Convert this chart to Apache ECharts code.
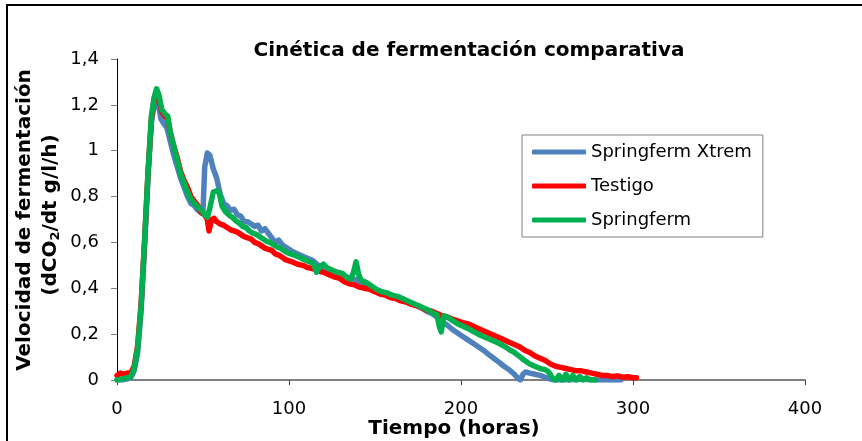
<!DOCTYPE html>
<html>
<head>
<meta charset="utf-8">
<script src="https://cdn.jsdelivr.net/npm/echarts@6/dist/echarts.min.js"></script>
<style>html,body{margin:0;padding:0;background:#fff}#c{width:862px;height:441px}</style>
</head>
<body>
<div id="c"></div>
<script>
const seriesNames = ['Springferm Xtrem', 'Testigo', 'Springferm'];
const xTicks = [0, 100, 200, 300, 400];
const yTicks = [0, 0.2, 0.4, 0.6, 0.8, 1, 1.2, 1.4];

// [hours, g/l/h]
const springfermXtrem = [[0,0],[3,0],[6,0.005],[8,0.01],[10,0.04],[12,0.12],[14,0.3],[16,0.58],[18,0.88],[20,1.12],[21.5,1.2],[23,1.25],[24,1.2],[25.5,1.14],[27,1.12],[29,1.1],[31,1.04],[33,0.98],[35,0.93],[37,0.88],[39,0.84],[41,0.8],[43,0.77],[45,0.76],[47,0.74],[49,0.73],[50,0.74],[51,0.93],[52.5,0.99],[54,0.98],[56,0.92],[58,0.88],[60,0.81],[62,0.77],[64,0.76],[66,0.74],[68,0.745],[70,0.72],[72,0.715],[74,0.69],[76,0.69],[78,0.68],[80,0.67],[82,0.675],[84,0.65],[86,0.66],[88,0.64],[90,0.62],[92,0.6],[94,0.61],[96,0.59],[98,0.58],[100,0.57],[102,0.56],[105,0.55],[108,0.54],[111,0.53],[114,0.52],[117,0.5],[120,0.49],[123,0.48],[126,0.47],[129,0.46],[132,0.455],[135,0.445],[138,0.44],[141,0.43],[144,0.42],[147,0.41],[150,0.395],[153,0.38],[156,0.375],[159,0.37],[162,0.36],[165,0.355],[168,0.345],[171,0.335],[174,0.325],[177,0.315],[180,0.3],[183,0.29],[186,0.275],[188,0.265],[190,0.25],[192,0.24],[195,0.22],[198,0.205],[201,0.19],[204,0.175],[207,0.16],[210,0.145],[213,0.13],[216,0.112],[219,0.095],[222,0.078],[225,0.06],[228,0.045],[231,0.025],[233,0.008],[234.5,0],[236,0.025],[237.5,0.035],[240,0.03],[243,0.025],[246,0.02],[249,0.012],[252,0.004],[254,0],[260,0],[270,0.003],[280,0],[293,0]];

const testigo = [[0,0.02],[2,0.03],[4,0.025],[6,0.03],[8,0.03],[10,0.06],[12,0.15],[14,0.33],[16,0.6],[18,0.9],[20,1.14],[21.5,1.22],[23,1.26],[24.5,1.22],[26,1.17],[28,1.15],[29.5,1.14],[31,1.08],[33,1.02],[35,0.97],[37,0.91],[39,0.87],[41,0.84],[43,0.8],[45,0.78],[47,0.76],[49,0.73],[51,0.72],[52.5,0.7],[53.5,0.65],[55,0.7],[56.5,0.705],[58,0.69],[60,0.68],[62,0.675],[64,0.665],[66,0.655],[68,0.65],[70,0.645],[72,0.635],[74,0.625],[76,0.62],[78,0.615],[80,0.6],[82,0.595],[84,0.585],[86,0.575],[88,0.57],[90,0.565],[92,0.55],[94,0.545],[96,0.535],[98,0.525],[100,0.52],[102,0.515],[105,0.505],[108,0.5],[111,0.49],[114,0.485],[117,0.475],[120,0.47],[123,0.46],[126,0.45],[129,0.445],[132,0.43],[135,0.42],[138,0.415],[141,0.405],[144,0.4],[147,0.395],[150,0.385],[153,0.375],[156,0.37],[159,0.36],[162,0.355],[165,0.345],[168,0.34],[171,0.33],[174,0.325],[177,0.315],[180,0.305],[183,0.3],[186,0.29],[189,0.28],[192,0.275],[195,0.265],[198,0.258],[201,0.25],[204,0.245],[207,0.235],[210,0.225],[213,0.215],[216,0.205],[219,0.195],[222,0.185],[225,0.175],[228,0.165],[231,0.155],[234,0.145],[237,0.13],[240,0.12],[243,0.105],[246,0.095],[249,0.085],[252,0.07],[255,0.06],[258,0.055],[261,0.05],[264,0.045],[267,0.04],[270,0.04],[273,0.035],[276,0.03],[279,0.025],[282,0.02],[285,0.02],[288,0.015],[291,0.018],[294,0.012],[297,0.014],[300,0.01],[302,0.01]];

const springferm = [[0,0],[3,0.005],[6,0.01],[8,0.015],[10,0.05],[12,0.14],[14,0.32],[16,0.6],[18,0.9],[20,1.15],[21.5,1.23],[23,1.27],[24.5,1.24],[26,1.18],[28,1.16],[29.5,1.15],[31,1.08],[33,1.02],[35,0.96],[37,0.9],[39,0.86],[41,0.82],[43,0.79],[45,0.77],[47,0.755],[49,0.74],[51,0.72],[52.5,0.71],[54,0.75],[56,0.82],[58,0.825],[59.5,0.815],[61,0.76],[63,0.735],[65,0.72],[67,0.71],[69,0.695],[71,0.685],[73,0.67],[75,0.665],[77,0.65],[79,0.64],[81,0.635],[83,0.625],[85,0.615],[87,0.605],[89,0.6],[91,0.59],[93,0.58],[95,0.575],[97,0.565],[99,0.555],[101,0.55],[103,0.545],[106,0.535],[109,0.525],[112,0.515],[114,0.51],[116,0.47],[118,0.495],[120,0.505],[122,0.49],[125,0.48],[128,0.47],[131,0.465],[134,0.445],[136,0.44],[137.5,0.47],[139,0.515],[140.5,0.46],[142,0.435],[145,0.425],[148,0.41],[151,0.395],[154,0.385],[157,0.38],[160,0.37],[163,0.365],[166,0.355],[169,0.345],[172,0.335],[175,0.325],[178,0.315],[181,0.305],[184,0.29],[186,0.285],[187.5,0.23],[188.5,0.21],[190,0.28],[192,0.275],[195,0.26],[198,0.245],[201,0.235],[204,0.225],[207,0.212],[210,0.2],[213,0.19],[216,0.18],[219,0.17],[222,0.16],[225,0.148],[228,0.133],[231,0.12],[234,0.103],[237,0.085],[240,0.07],[243,0.06],[246,0.05],[249,0.045],[251,0.035],[253,0.01],[255,0],[257,0.02],[259,0],[261,0.025],[263,0],[265,0.02],[267,0],[269,0.015],[271,0],[273,0.01],[275,0],[278,0]];

const FONT = '"DejaVu Sans", sans-serif';
const chart = echarts.init(document.getElementById('c'), null, {renderer: 'canvas'});

function fmtY(v) {
  return String(parseFloat(v.toFixed(2))).replace('.', ',');
}
function mkSeries(name, data, color) {
  return {
    name: name, type: 'line', data: data, showSymbol: false, symbol: 'none',
    smooth: false, animation: false,
    lineStyle: {color: color, width: 5.5, cap: 'round', join: 'round'},
    itemStyle: {color: color}
  };
}

chart.setOption({
  backgroundColor: '#fff',
  animation: false,
  textStyle: {fontFamily: FONT},
  grid: {left: 117, right: 57, top: 59, bottom: 61, containLabel: false},
  legend: {
    orient: 'vertical', left: 522, top: 135,
    padding: [7, 11, 7, 10],
    borderColor: '#808080', borderWidth: 1,
    backgroundColor: '#fff',
    icon: 'roundRect', itemWidth: 54, itemHeight: 5, itemGap: 14, itemTextGap: 4,
    textStyle: {fontFamily: FONT, fontSize: 18, color: '#000', lineHeight: 20},
    data: seriesNames
  },
  xAxis: {
    type: 'value', min: xTicks[0], max: xTicks[xTicks.length - 1], interval: 100,
    axisLine: {show: true, lineStyle: {color: '#808080', width: 2}},
    axisTick: {show: true, length: 5, lineStyle: {color: '#404040', width: 1}},
    axisLabel: {fontFamily: FONT, fontSize: 18, color: '#000', margin: 20},
    splitLine: {show: false}
  },
  yAxis: {
    type: 'value', min: yTicks[0], max: yTicks[yTicks.length - 1], interval: 0.2,
    axisLine: {show: true, lineStyle: {color: '#000', width: 1}},
    axisTick: {show: true, length: 6, lineStyle: {color: '#808080', width: 1}},
    axisLabel: {fontFamily: FONT, fontSize: 18, color: '#000', margin: 18, formatter: fmtY},
    splitLine: {show: false}
  },
  series: [
    mkSeries(seriesNames[0], springfermXtrem, '#4F81BD'),
    mkSeries(seriesNames[1], testigo, '#FF0000'),
    mkSeries(seriesNames[2], springferm, '#00B050')
  ],
  graphic: [
    {type: 'rect', silent: true, z: 100, shape: {x: 7, y: 5, width: 1000, height: 1000},
     style: {fill: 'none', stroke: '#000', lineWidth: 2}},
    {type: 'text', x: 469, y: 51, style: {text: 'Cinética de fermentación comparativa', fill: '#000',
      font: 'bold 20px ' + FONT, textAlign: 'center', textVerticalAlign: 'middle'}},
    {type: 'text', x: 454, y: 429, style: {text: 'Tiempo (horas)', fill: '#000',
      font: 'bold 20px ' + FONT, textAlign: 'center', textVerticalAlign: 'middle'}},
    {type: 'text', x: 25, y: 220, rotation: Math.PI / 2, style: {text: 'Velocidad de fermentación', fill: '#000',
      font: 'bold 20px ' + FONT, textAlign: 'center', textVerticalAlign: 'middle'}},
    {type: 'text', x: 51, y: 215, rotation: Math.PI / 2, style: {
      text: '{n|(dCO}{s|2}{n|/dt g/l/h)}', fill: '#000',
      textAlign: 'center', textVerticalAlign: 'middle',
      rich: {
        n: {fontFamily: FONT, fontWeight: 'bold', fontSize: 20, lineHeight: 22, fill: '#000', color: '#000'},
        s: {fontFamily: FONT, fontWeight: 'bold', fontSize: 13, lineHeight: 13, verticalAlign: 'bottom', fill: '#000', color: '#000'}
      }}}
  ]
});
</script>
</body>
</html>
